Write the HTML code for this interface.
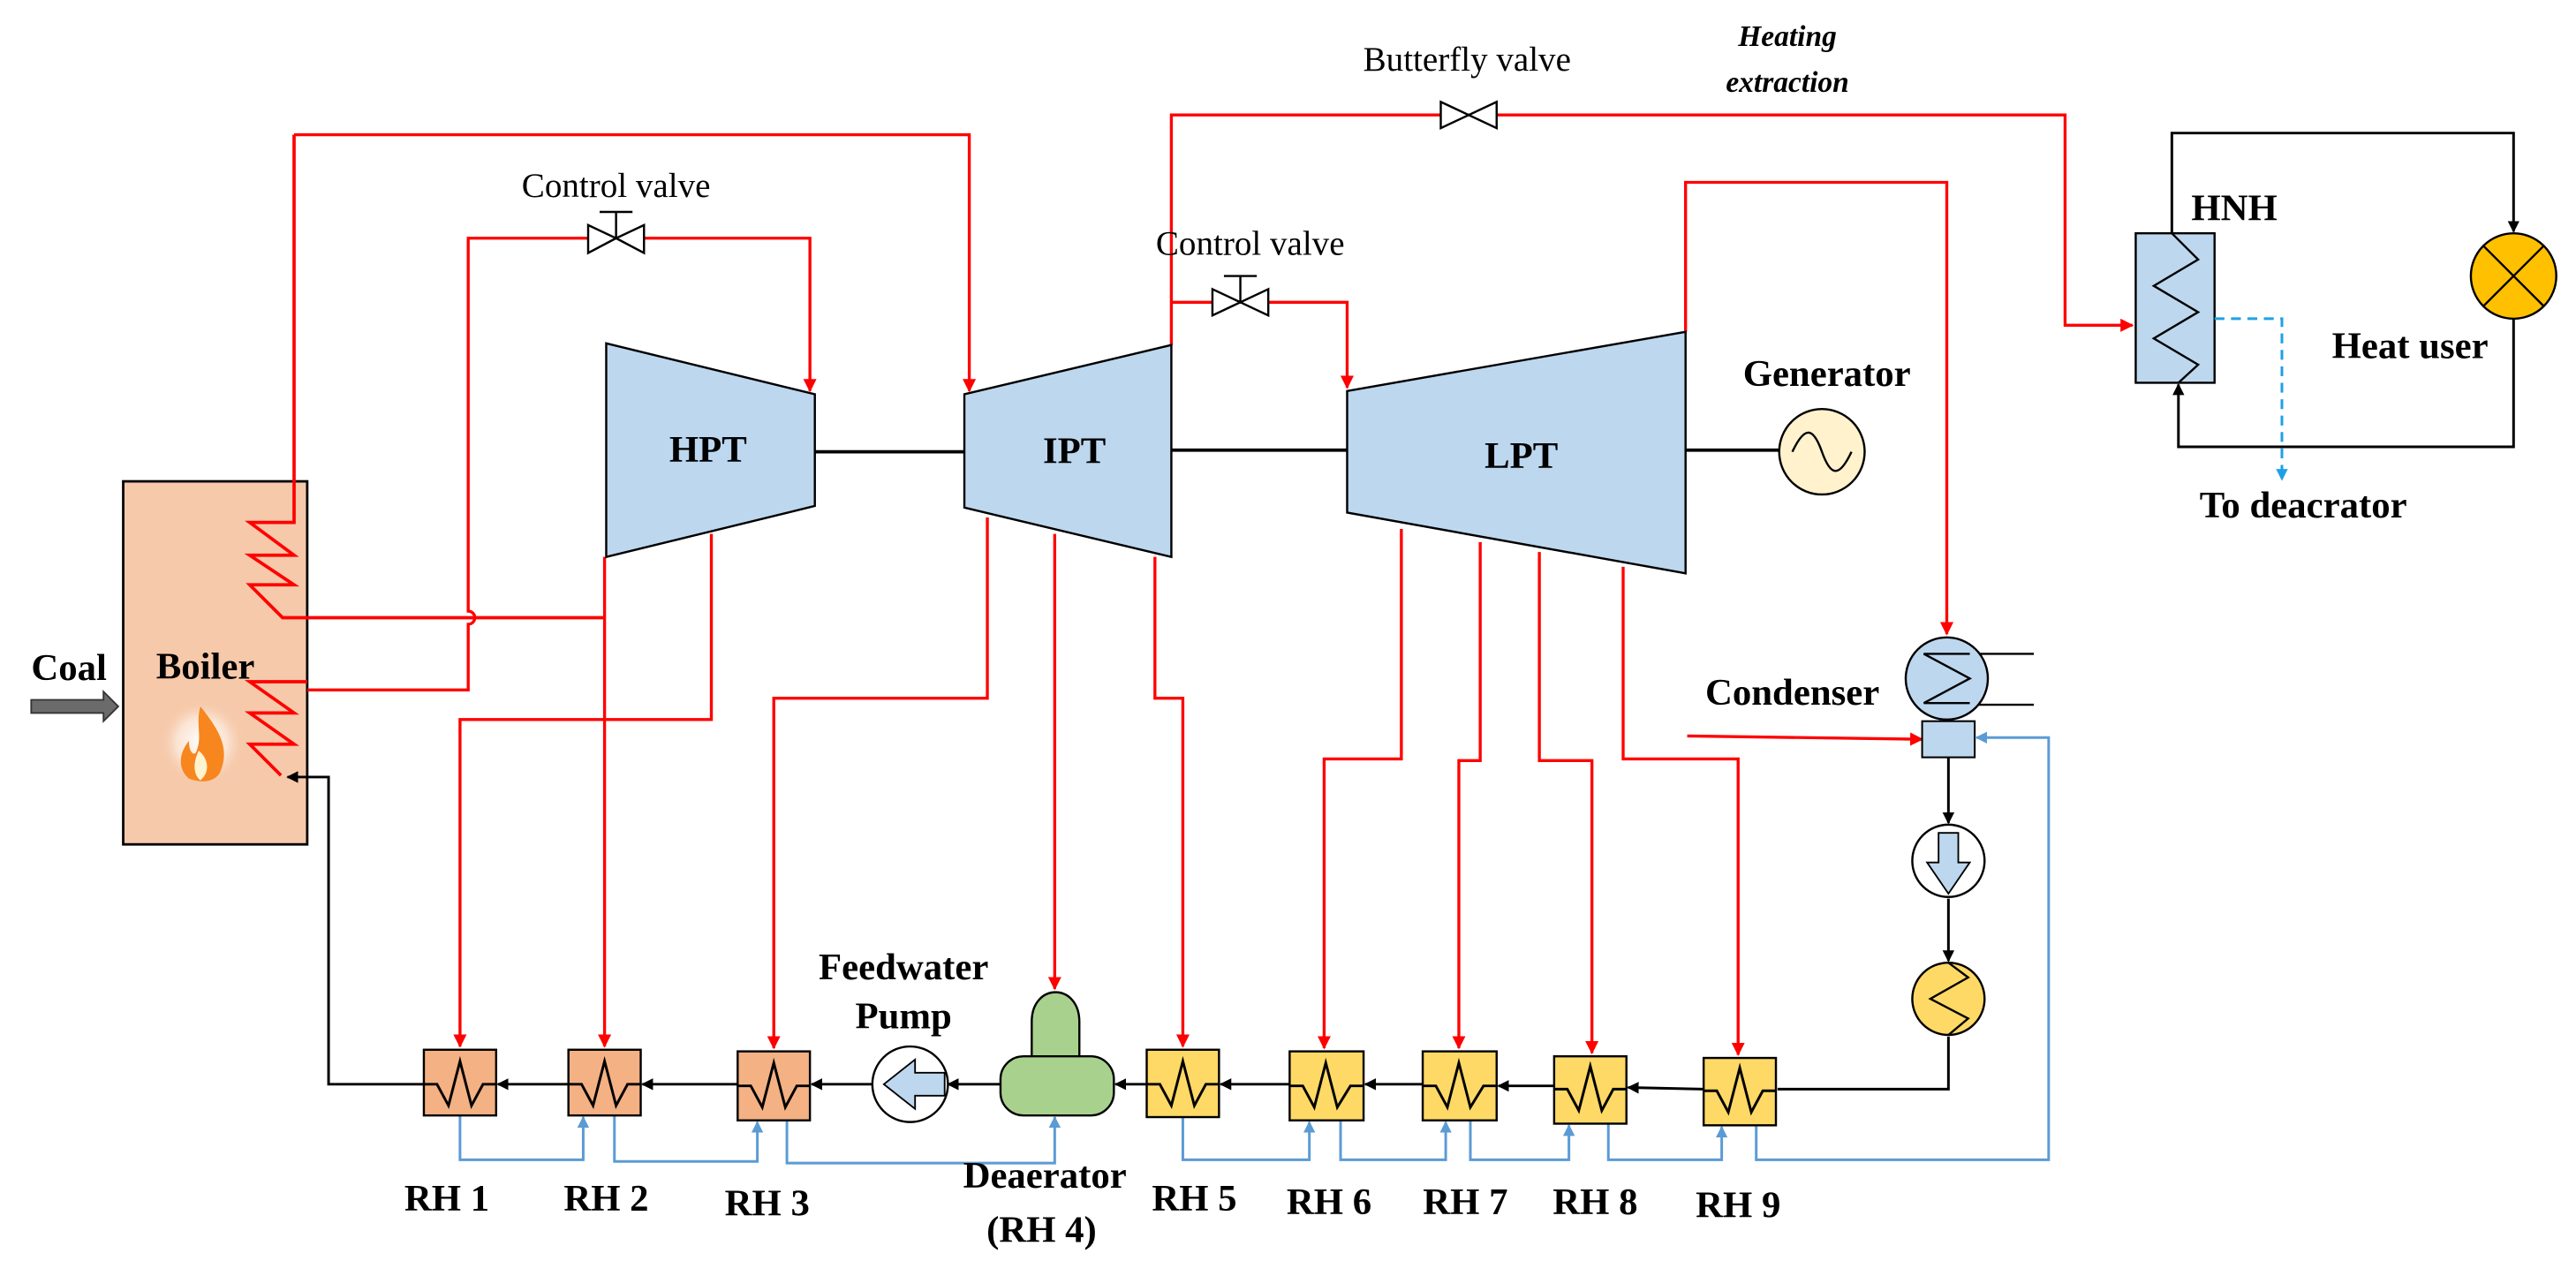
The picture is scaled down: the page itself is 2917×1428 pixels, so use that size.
<!DOCTYPE html>
<html><head><meta charset="utf-8"><style>
html,body{margin:0;padding:0;background:#fff;}
svg{display:block;}
text{font-family:"Liberation Serif",serif;}
.b{font-weight:bold;font-size:23px;}
.n{font-size:21px;}
</style></head><body>
<svg width="2917" height="1428" viewBox="0 0 1568 767.6" xmlns="http://www.w3.org/2000/svg">
<defs>
<marker id="ar" viewBox="0 0 10 10" refX="9" refY="5" markerWidth="4.5" markerHeight="4.5" orient="auto-start-reverse"><path d="M0,0L10,5L0,10z" fill="#f00"/></marker>
<marker id="ak" viewBox="0 0 10 10" refX="9" refY="5" markerWidth="4.5" markerHeight="4.5" orient="auto-start-reverse"><path d="M0,0L10,5L0,10z" fill="#000"/></marker>
<marker id="ab" viewBox="0 0 10 10" refX="9" refY="5" markerWidth="4.5" markerHeight="4.5" orient="auto-start-reverse"><path d="M0,0L10,5L0,10z" fill="#5b9bd5"/></marker>
<marker id="ac" viewBox="0 0 10 10" refX="9" refY="5" markerWidth="4.5" markerHeight="4.5" orient="auto-start-reverse"><path d="M0,0L10,5L0,10z" fill="#1ea0e6"/></marker>
<radialGradient id="fg"><stop offset="0" stop-color="#fff"/><stop offset="0.6" stop-color="#fbe3d2"/><stop offset="1" stop-color="#f6c9aa" stop-opacity="0"/></radialGradient>
</defs>

<!-- Boiler -->
<rect x="75" y="293" width="112" height="221" fill="#f6c9aa" stroke="#000" stroke-width="1.5"/>
<circle cx="123" cy="452" r="26" fill="url(#fg)"/>
<path d="M122,430 C134,445 140,456 134,470 C131,476 123,477 115,474 C107,467 110,457 115,451 C115,459 119,461 120,456 C123,448 119,440 122,430z" fill="#f7861e"/>
<path d="M121,457 C127,462 128,470 122,475 C118,472 117,465 121,457z" fill="#fff3d0"/>
<text x="125" y="413" class="b" text-anchor="middle">Boiler</text>
<text x="42" y="414" class="b" text-anchor="middle">Coal</text>
<path d="M19,426 H63 V421 L72,430 L63,439 V434 H19z" fill="#6b6b6b" stroke="#333" stroke-width="1"/>

<g fill="none" stroke="#f00" stroke-width="2">
<polyline points="179,82 179,318 152,318 179,338 152,338 179,356 152,356 172,376 368,376"/>
<polyline points="187,415 152,415 179,434 152,434 179,453 152,453 171,472"/>
</g>

<g fill="none" stroke="#f00" stroke-width="1.8">
<polyline points="179,82 590,82 590,238" marker-end="url(#ar)"/>
<path d="M187,420 H285 V380 A4,4 0 0 0 285,372 V145 H493 V238" marker-end="url(#ar)"/>
<polyline points="368,339 368,637" marker-end="url(#ar)"/>
<polyline points="433,325 433,438 280,438 280,637" marker-end="url(#ar)"/>
<polyline points="601,315 601,425 471,425 471,638" marker-end="url(#ar)"/>
<polyline points="642,325 642,602" marker-end="url(#ar)"/>
<polyline points="703,339 703,425 720,425 720,637" marker-end="url(#ar)"/>
<polyline points="713,210 713,70 1257,70 1257,198 1298,198" marker-end="url(#ar)"/>
<polyline points="713,184 820,184 820,236" marker-end="url(#ar)"/>
<polyline points="1026,202 1026,111 1185,111 1185,386" marker-end="url(#ar)"/>
<polyline points="1027,448 1170,450" marker-end="url(#ar)"/>
<polyline points="853,322 853,462 806,462 806,638" marker-end="url(#ar)"/>
<polyline points="901,330 901,463 888,463 888,638" marker-end="url(#ar)"/>
<polyline points="937,336 937,463 969,463 969,641" marker-end="url(#ar)"/>
<polyline points="988,345 988,462 1058,462 1058,642" marker-end="url(#ar)"/>
</g>

<!-- valves -->
<g fill="#fff" stroke="#000" stroke-width="1.3">
<path d="M358,137 L375,145 L358,154z M392,137 L375,145 L392,154z"/>
<path d="M738,176 L755,184 L738,192z M772,176 L755,184 L772,192z"/>
<path d="M877,62 L894,70 L877,78z M911,62 L894,70 L911,78z"/>
</g>
<g stroke="#000" stroke-width="1.3"><path d="M375,145 V129 M365,129 H385 M755,184 V168 M745,168 H765"/></g>
<text x="375" y="120" class="n" text-anchor="middle">Control valve</text>
<text x="761" y="155" class="n" text-anchor="middle">Control valve</text>
<text x="893" y="43" class="n" text-anchor="middle">Butterfly valve</text>
<text x="1088" y="28" font-size="18" font-weight="bold" font-style="italic" text-anchor="middle" style="font-family:'Liberation Serif',serif">Heating</text>
<text x="1088" y="56" font-size="18" font-weight="bold" font-style="italic" text-anchor="middle" style="font-family:'Liberation Serif',serif">extraction</text>

<!-- shafts -->
<g stroke="#000" stroke-width="2"><path d="M496,275 H587 M713,274 H820 M1026,274 H1083"/></g>
<!-- turbines -->
<g fill="#bdd7ee" stroke="#000" stroke-width="1.3">
<polygon points="369,209 496,240 496,308 369,339"/>
<polygon points="587,240 713,210 713,339 587,309"/>
<polygon points="820,238 1026,202 1026,349 820,312"/>
</g>
<text x="431" y="281" class="b" text-anchor="middle">HPT</text>
<text x="654" y="282" class="b" text-anchor="middle">IPT</text>
<text x="926" y="285" class="b" text-anchor="middle">LPT</text>
<circle cx="1109" cy="275" r="26" fill="#fff2cc" stroke="#000" stroke-width="1.3"/>
<path d="M1091,275 C1099,258 1104,261 1109,275 C1114,289 1119,292 1127,275" fill="none" stroke="#000" stroke-width="1.3"/>
<text x="1112" y="235" class="b" text-anchor="middle">Generator</text>

<!-- HNH loop -->
<g fill="none" stroke="#000" stroke-width="1.6">
<polyline points="1322,142 1322,81 1530,81 1530,141" marker-end="url(#ak)"/>
<polyline points="1530,194 1530,272 1326,272 1326,234" marker-end="url(#ak)"/>
</g>
<rect x="1300" y="142" width="48" height="91" fill="#bdd7ee" stroke="#000" stroke-width="1.3"/>
<polyline points="1322,142 1338,158 1311,174 1338,190 1311,206 1338,222 1326,233" fill="none" stroke="#000" stroke-width="1.3"/>
<circle cx="1530" cy="168" r="26" fill="#ffc000" stroke="#000" stroke-width="1.3"/>
<path d="M1512,150 L1548,186 M1548,150 L1512,186" stroke="#000" stroke-width="1.3"/>
<polyline points="1348,194 1389,194 1389,292" fill="none" stroke="#1ea0e6" stroke-width="1.6" stroke-dasharray="6,4" marker-end="url(#ac)"/>
<text x="1360" y="134" class="b" text-anchor="middle">HNH</text>
<text x="1467" y="218" class="b" text-anchor="middle">Heat user</text>
<text x="1402" y="315" class="b" text-anchor="middle">To deacrator</text>

<!-- condenser -->
<text x="1091" y="429" class="b" text-anchor="middle">Condenser</text>
<g stroke="#000" stroke-width="1.3"><path d="M1199,398 H1238 M1199,429 H1238"/></g>
<circle cx="1185" cy="413" r="25" fill="#bdd7ee" stroke="#000" stroke-width="1.3"/>
<polyline points="1199,398 1171,398 1199,413 1171,428 1199,428" fill="none" stroke="#000" stroke-width="1.3"/>
<rect x="1170" y="439" width="32" height="22" fill="#bdd7ee" stroke="#000" stroke-width="1.1"/>
<g fill="none" stroke="#000" stroke-width="1.6">
<polyline points="1186,461 1186,501" marker-end="url(#ak)"/>
<polyline points="1186,547 1186,585" marker-end="url(#ak)"/>
<polyline points="1186,631 1186,663 1082,663"/>
</g>
<circle cx="1186" cy="524" r="22" fill="#fff" stroke="#000" stroke-width="1.3"/>
<path d="M1180,507 H1192 V525 H1199 L1186,544 L1173,525 H1180z" fill="#bdd7ee" stroke="#000" stroke-width="1"/>
<circle cx="1186" cy="608" r="22" fill="#ffd966" stroke="#000" stroke-width="1.3"/>
<polyline points="1186,586 1198,595 1175,608 1198,620 1186,630" fill="none" stroke="#000" stroke-width="1.3"/>

<!-- feedwater main line -->
<g fill="none" stroke="#000" stroke-width="1.6">
<polyline points="1037,663 991,662" marker-end="url(#ak)"/>
<polyline points="946,661 912,661" marker-end="url(#ak)"/>
<polyline points="866,660 831,660" marker-end="url(#ak)"/>
<polyline points="785,660 743,660" marker-end="url(#ak)"/>
<polyline points="698,660 679,660" marker-end="url(#ak)"/>
<polyline points="609,660 577,660" marker-end="url(#ak)"/>
<polyline points="532,660 494,660" marker-end="url(#ak)"/>
<polyline points="449,660 391,660" marker-end="url(#ak)"/>
<polyline points="346,660 303,660" marker-end="url(#ak)"/>
<polyline points="258,660 200,660 200,473 175,473" marker-end="url(#ak)"/>
</g>
<!-- blue drains -->
<g fill="none" stroke="#5b9bd5" stroke-width="1.6">
<polyline points="280,679 280,706 355,706 355,680" marker-end="url(#ab)"/>
<polyline points="374,679 374,707 461,707 461,683" marker-end="url(#ab)"/>
<polyline points="479,682 479,708 642,708 642,680" marker-end="url(#ab)"/>
<polyline points="720,680 720,706 797,706 797,683" marker-end="url(#ab)"/>
<polyline points="816,682 816,706 880,706 880,683" marker-end="url(#ab)"/>
<polyline points="895,682 895,706 955,706 955,685" marker-end="url(#ab)"/>
<polyline points="979,684 979,706 1048,706 1048,686" marker-end="url(#ab)"/>
<polyline points="1069,685 1069,706 1247,706 1247,449 1203,449" marker-end="url(#ab)"/>
</g>

<!-- RH boxes -->
<g stroke="#000" stroke-width="1.3">
<g fill="#f4b183">
<rect x="258" y="639" width="44" height="40"/>
<rect x="346" y="639" width="44" height="40"/>
<rect x="449" y="640" width="44" height="42"/>
</g>
<g fill="#ffd966">
<rect x="698" y="639" width="44" height="41"/>
<rect x="785" y="640" width="45" height="42"/>
<rect x="866" y="640" width="45" height="42"/>
<rect x="946" y="643" width="44" height="41"/>
<rect x="1037" y="644" width="44" height="41"/>
</g>
</g>
<g fill="none" stroke="#000" stroke-width="1.6">
<polyline points="258,660 266,660 273,673 280,646 287,673 294,660 302,660"/>
<polyline points="346,660 354,660 361,673 368,646 375,673 382,660 390,660"/>
<polyline points="449,661 457,661 464,674 471,647 478,674 485,661 493,661"/>
<polyline points="698,660 706,660 713,673 720,646 727,673 734,660 742,660"/>
<polyline points="785,661 793,661 800,674 807,647 814,674 822,661 830,661"/>
<polyline points="866,661 874,661 881,674 888,647 895,674 903,661 911,661"/>
<polyline points="946,663 954,663 961,676 968,649 975,676 982,663 990,663"/>
<polyline points="1037,664 1045,664 1052,677 1059,650 1066,677 1073,664 1081,664"/>
</g>

<!-- pump & deaerator -->
<circle cx="554" cy="660" r="23" fill="#fff" stroke="#000" stroke-width="1.3"/>
<path d="M575,653 H557 V645 L538,660 L557,675 V667 H575z" fill="#bdd7ee" stroke="#000" stroke-width="1"/>
<path d="M628,646 V622 C628,598 657,598 657,622 V646z" fill="#a9d18e" stroke="#000" stroke-width="1.3"/>
<rect x="609" y="643" width="69" height="36" rx="14" fill="#a9d18e" stroke="#000" stroke-width="1.3"/>

<!-- labels -->
<text x="550" y="596" class="b" text-anchor="middle">Feedwater</text>
<text x="550" y="626" class="b" text-anchor="middle">Pump</text>
<g class="b" text-anchor="middle">
<text x="272" y="737">RH 1</text>
<text x="369" y="737">RH 2</text>
<text x="467" y="740">RH 3</text>
<text x="636" y="723">Deaerator</text>
<text x="634" y="756">(RH 4)</text>
<text x="727" y="737">RH 5</text>
<text x="809" y="739">RH 6</text>
<text x="892" y="739">RH 7</text>
<text x="971" y="739">RH 8</text>
<text x="1058" y="741">RH 9</text>
</g>
</svg>
</body></html>
